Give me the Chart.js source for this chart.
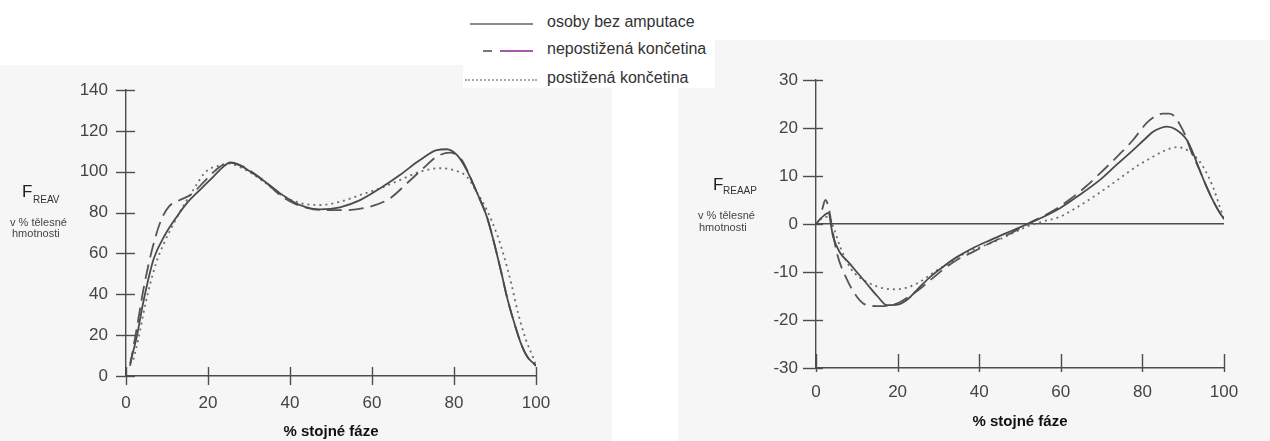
<!DOCTYPE html>
<html>
<head>
<meta charset="utf-8">
<script src="https://cdn.jsdelivr.net/npm/chart.js@4.4.1/dist/chart.umd.min.js"></script>
<style>
  html, body { margin: 0; padding: 0; }
  body { width: 1270px; height: 441px; position: relative; overflow: hidden; background: #ffffff;
         font-family: "Liberation Sans", Arial, sans-serif; }
  .bg { position: absolute; background: #f6f6f6; }
  canvas { position: absolute; top: 0; }
  .t { position: absolute; line-height: 1; white-space: nowrap; }
  #legend { position: absolute; left: 463px; top: 0; width: 252px; height: 88px; background: #ffffff; }
  .lrow { position: absolute; left: 0; width: 252px; height: 20px; }
  .ltext { position: absolute; left: 84px; font-size: 16px; line-height: 16px; color: #333; white-space: nowrap; }
  .seg { position: absolute; height: 0; }
</style>
</head>
<body>
<div class="bg" style="left:0;top:65px;width:612px;height:376px;"></div>
<div class="bg" style="left:678px;top:40px;width:592px;height:401px;"></div>

<div id="legend">
  <div class="lrow" style="top:13px;">
    <div class="seg" style="left:7px;top:10px;width:63px;border-top:2px solid #8a8a8a;"></div>
    <div class="ltext" style="top:1px;">osoby bez amputace</div>
  </div>
  <div class="lrow" style="top:40px;">
    <div class="seg" style="left:20px;top:10px;width:9px;border-top:2px solid #777;"></div>
    <div class="seg" style="left:37px;top:10px;width:33px;border-top:2px solid #a35aa8;"></div>
    <div class="ltext" style="top:1px;">nepostižená končetina</div>
  </div>
  <div class="lrow" style="top:69px;">
    <div class="seg" style="left:2px;top:10px;width:72px;border-top:2px dotted #aaaaaa;"></div>
    <div class="ltext" style="top:1px;">postižená končetina</div>
  </div>
</div>

<canvas id="cL" width="612" height="441" style="left:0;"></canvas>
<canvas id="cR" width="592" height="441" style="left:678px;"></canvas>

<div class="t" style="left:22px;top:183px;font-size:17px;color:#222;">F</div>
<div class="t" style="left:33px;top:195px;font-size:10px;color:#333;">REAV</div>
<div class="t" style="left:10px;top:217px;font-size:11px;color:#444;">v % tělesné</div>
<div class="t" style="left:12px;top:228px;font-size:11px;color:#444;">hmotnosti</div>

<div class="t" style="left:713px;top:176px;font-size:17px;color:#222;">F</div>
<div class="t" style="left:723px;top:186px;font-size:10px;color:#333;">REAAP</div>
<div class="t" style="left:698px;top:210px;font-size:11px;color:#444;">v % tělesné</div>
<div class="t" style="left:699px;top:222px;font-size:11px;color:#444;">hmotnosti</div>

<script>
// ---------- data ----------
const seriesNames = ['osoby bez amputace', 'nepostižená končetina', 'postižená končetina'];
const xTicks = [0, 20, 40, 60, 80, 100];
const leftYTicks = [0, 20, 40, 60, 80, 100, 120, 140];
const rightYTicks = [-30, -20, -10, 0, 10, 20, 30];
const xTitle = '% stojné fáze';

// F_REAV (left)
const leftSolidX  = [1, 1.5, 2.6, 4.2, 6.7, 9.5, 12.4, 15, 17.2, 19.5, 21.5, 23.5, 25.4, 27.5, 30, 34, 37.6, 42.4, 47.3, 52.2, 57.1, 62, 66.8, 71.7, 75.8, 78.2, 80.7, 83.1, 85.5, 88, 89.6, 91.5, 93, 95, 96.5, 98, 99.5, 100];
const leftSolidY  = [6, 10, 19, 36, 57, 69, 78, 85, 89.5, 94, 98, 102, 104.5, 103.5, 100.5, 95, 89.4, 83.7, 81.6, 82.6, 86.1, 91.9, 98.4, 105.7, 110.6, 111, 108.2, 100.8, 90.2, 78, 66.6, 51, 38, 24, 15, 9, 6, 5];
const leftDashX   = [1, 2.5, 4.5, 6.5, 8.5, 10.5, 13, 16, 19, 22, 25, 28, 31, 34, 37.6, 41, 45.7, 50, 53.8, 59.5, 64.4, 68.5, 72.5, 75.8, 79, 81.9, 83.5, 85.5, 88, 89.6, 91.5, 93, 95, 96.5, 98, 99.5, 100];
const leftDashY   = [5, 22, 45, 63, 76, 83, 86, 89, 95, 101, 104.5, 103, 99.5, 95, 88.5, 84.5, 81.6, 81.2, 81.2, 82.9, 87, 94.3, 101.7, 107.4, 109.3, 105.7, 99.5, 90, 78, 66.6, 51, 38, 24, 15, 9, 6, 5];
const leftDotX    = [1.8, 3, 4.7, 7.3, 9.5, 12, 14.5, 17, 19, 21, 23, 25, 27.5, 30, 34, 37.6, 42.4, 47.3, 52.2, 57.1, 62, 66.8, 71.7, 76.6, 79.8, 83.1, 85.5, 88, 90.4, 92, 94, 95.6, 97.5, 99.5, 100];
const leftDotY    = [8, 18, 35, 55, 66, 76, 85, 93, 99, 102, 103, 104, 102.5, 100, 94.5, 89, 84.7, 83.7, 85.3, 88.6, 91.9, 95.9, 100, 101.7, 100.8, 97.6, 90.2, 81.3, 69.8, 60, 45, 31, 18, 8, 5];

// F_REAAP (right)
const rightSolidX = [0, 1, 2, 3, 4.2, 5.9, 8, 10, 12.5, 15, 17.4, 20, 22.3, 25, 28, 31, 34.5, 38.5, 42.6, 48, 54, 59.8, 64.5, 69.6, 73.5, 77.7, 80.5, 82.6, 84.5, 86, 88, 90.9, 92.5, 94, 95.5, 97, 98.5, 100];
const rightSolidY = [0, 1, 1.8, 2.3, -2.7, -6, -8, -10, -12.5, -15, -16.9, -16.8, -15.8, -13.5, -11, -9, -6.9, -5, -3.4, -1.4, 0.8, 3.3, 6, 9.2, 12.2, 15.4, 17.6, 19.2, 20, 20.3, 19.8, 17.5, 14.6, 11.3, 8.2, 5.4, 3, 1];
const rightDashX  = [1.5, 2.3, 3.2, 4, 5.1, 7.6, 9.5, 11.5, 13, 14.9, 18, 20.5, 23, 25.5, 28, 31, 34.5, 38.5, 42.6, 48, 53, 58, 62, 66, 70.4, 74, 77.7, 81, 83, 85, 86.5, 87.5, 89, 90.5, 92, 94, 95.5, 97, 98.5, 100];
const rightDashY  = [3, 5, 3, -1, -6, -11.6, -14.5, -16.5, -17, -17.1, -17, -16.3, -15, -13.5, -11.7, -9.6, -7.5, -5.8, -4, -1.8, 0.5, 2.7, 5, 7.7, 11.2, 14.2, 17.5, 21, 22.4, 23, 23, 22.7, 21, 18.5, 15, 11.3, 8.2, 5.4, 3, 1];
const rightDotX   = [0, 1.5, 3, 4.2, 5.9, 8.3, 10.5, 13.2, 16.5, 19.8, 22, 24.7, 27, 29.7, 32.8, 35, 39, 43.4, 47.5, 51.6, 55.5, 59.8, 64, 67.9, 72, 76.2, 79.5, 82.6, 85.5, 88.5, 91.7, 94.9, 97.3, 99, 100];
const rightDotY   = [0, 1.2, 1.5, -0.5, -4.7, -9, -11, -12.4, -13.4, -13.6, -13.3, -12.4, -11.2, -9.6, -8.1, -6.8, -5.2, -3.8, -2.2, -0.6, 0.5, 1.5, 3.5, 5.6, 8, 10.6, 12.5, 14, 15.3, 16, 15, 11.9, 7.7, 3.5, 1];

// ---------- helpers ----------
const FONT = '"Liberation Sans", Arial, sans-serif';
Chart.defaults.font.family = FONT;
const AXIS = '#4d4d4d';

function pts(xs, ys) { return xs.map((x, i) => ({ x: x, y: ys[i] })); }

function makeDatasets(sx, sy, dx, dy, px, py) {
  const base = { pointRadius: 0, fill: false, cubicInterpolationMode: 'monotone', borderCapStyle: 'butt' };
  return [
    Object.assign({}, base, { label: seriesNames[0], data: pts(sx, sy), borderColor: '#4a4a4a', borderWidth: 1.8 }),
    Object.assign({}, base, { label: seriesNames[1], data: pts(dx, dy), borderColor: '#555555', borderWidth: 1.8, borderDash: [15, 7] }),
    Object.assign({}, base, { label: seriesNames[2], data: pts(px, py), borderColor: '#6e6e6e', borderWidth: 1.8, borderDash: [2, 4] })
  ];
}

const crossTicks = {
  id: 'crossTicks',
  afterDatasetsDraw(chart, args, o) {
    const ctx = chart.ctx, xs = chart.scales.x, ys = chart.scales.y;
    ctx.save();
    ctx.strokeStyle = AXIS;
    ctx.lineWidth = 1.4;
    xs.ticks.forEach(t => {
      const p = Math.round(xs.getPixelForValue(t.value)) + 0.5;
      ctx.beginPath(); ctx.moveTo(p, xs.top - o.xUp); ctx.lineTo(p, xs.top + o.xDown); ctx.stroke();
    });
    ys.ticks.forEach(t => {
      const p = Math.round(ys.getPixelForValue(t.value)) + 0.5;
      ctx.beginPath(); ctx.moveTo(ys.right - o.yLeft, p); ctx.lineTo(ys.right + o.yRight, p); ctx.stroke();
    });
    ctx.restore();
  }
};

function makeChart(id, cfg) {
  return new Chart(document.getElementById(id), {
    type: 'line',
    data: { datasets: cfg.datasets },
    plugins: [crossTicks],
    options: {
      responsive: false,
      animation: false,
      events: [],
      layout: { padding: cfg.padding },
      plugins: { legend: { display: false }, tooltip: { enabled: false }, crossTicks: cfg.ticks },
      scales: {
        x: {
          type: 'linear', min: 0, max: 100,
          afterBuildTicks: s => { s.ticks = xTicks.map(v => ({ value: v })); },
          afterFit: s => { s.height = cfg.xHeight; },
          grid: { display: false, drawTicks: false },
          border: { display: true, color: AXIS, width: 1.4 },
          ticks: { padding: cfg.xPad, color: '#444', font: { size: 17 }, maxRotation: 0 },
          title: { display: true, text: xTitle, color: '#111', font: { size: 15, weight: 'bold' }, padding: { top: 0, bottom: cfg.titlePad } }
        },
        y: {
          type: 'linear', min: cfg.yTicks[0], max: cfg.yTicks[cfg.yTicks.length - 1],
          afterBuildTicks: s => { s.ticks = cfg.yTicks.map(v => ({ value: v })); },
          afterFit: s => { s.width = cfg.yWidth; },
          grid: cfg.yGrid,
          border: { display: true, color: AXIS, width: 1.4 },
          ticks: { padding: 18, color: '#444', font: { size: 17 } }
        }
      }
    }
  });
}

makeChart('cL', {
  datasets: makeDatasets(leftSolidX, leftSolidY, leftDashX, leftDashY, leftDotX, leftDotY),
  padding: { top: 90, right: 76, bottom: 0, left: 0 },
  xHeight: 65, yWidth: 126, xPad: 17, titlePad: 0,
  yTicks: leftYTicks,
  yGrid: { display: false, drawTicks: false },
  ticks: { xUp: 9, xDown: 9, yLeft: 10, yRight: 9 }
});

makeChart('cR', {
  datasets: makeDatasets(rightSolidX, rightSolidY, rightDashX, rightDashY, rightDotX, rightDotY),
  padding: { top: 80, right: 46, bottom: 0, left: 0 },
  xHeight: 73, yWidth: 138, xPad: 14, titlePad: 10,
  yTicks: rightYTicks,
  yGrid: { display: true, drawTicks: false, lineWidth: 1.4,
           color: c => (c.tick && c.tick.value === 0) ? AXIS : 'rgba(0,0,0,0)' },
  ticks: { xUp: 14, xDown: 4, yLeft: 13, yRight: 7 }
});
</script>
</body>
</html>
